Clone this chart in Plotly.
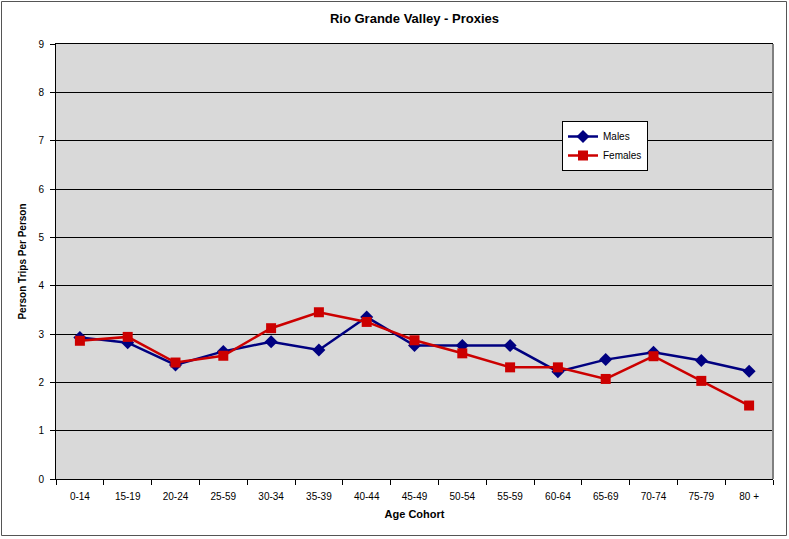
import plotly.graph_objects as go

categories = ["0-14", "15-19", "20-24", "25-59", "30-34", "35-39", "40-44", "45-49",
              "50-54", "55-59", "60-64", "65-69", "70-74", "75-79", "80 +"]
males = [2.93, 2.82, 2.36, 2.64, 2.84, 2.67, 3.35, 2.76, 2.76, 2.76, 2.22, 2.47, 2.62, 2.45, 2.23]
females = [2.86, 2.94, 2.41, 2.55, 3.12, 3.45, 3.25, 2.87, 2.60, 2.31, 2.31, 2.07, 2.54, 2.03, 1.52]

W, H = 789, 539
L, R, T, B = 56, 773, 44, 479

fig = go.Figure()
fig.add_trace(go.Scatter(x=categories, y=males, name="Males", mode="lines+markers",
                         line=dict(color="#000080", width=2.5),
                         marker=dict(symbol="diamond", size=10, color="#000080")))
fig.add_trace(go.Scatter(x=categories, y=females, name="Females", mode="lines+markers",
                         line=dict(color="#CC0000", width=2.5),
                         marker=dict(symbol="square", size=10, color="#CC0000")))

pw, ph = R - L, B - T
def px(x): return (x - L) / pw
def py(y): return (B - y) / ph

fig.update_layout(
    width=W, height=H,
    margin=dict(l=L, r=W - R, t=T, b=H - B, pad=0),
    paper_bgcolor="white", plot_bgcolor="#D9D9D9",
    font=dict(family="Liberation Sans, Arial, sans-serif", size=10, color="black"),
    title=dict(text="<b>Rio Grande Valley - Proxies</b>", x=0.5, xref="paper", xanchor="center",
               y=1 - 18 / H, yanchor="middle", font=dict(size=13)),
    showlegend=True,
    legend=dict(x=px(562), y=py(121), xanchor="left", yanchor="top",
                bgcolor="white", bordercolor="black", borderwidth=1,
                font=dict(size=10), tracegroupgap=0, itemwidth=30),
    xaxis=dict(type="category", range=[-0.5, len(categories) - 0.5], showgrid=False,
               tickson="boundaries", ticks="outside", ticklabelstandoff=8,
               ticklen=5, tickcolor="black", showline=True, linecolor="black", linewidth=1,
               mirror=True, title=dict(text="<b>Age Cohort</b>", font=dict(size=11), standoff=9),
               tickfont=dict(size=10)),
    yaxis=dict(range=[0, 9], dtick=1, showgrid=True, gridcolor="black", gridwidth=1,
               ticks="outside", ticklen=5, tickcolor="black", showline=True, linecolor="black",
               linewidth=1, zeroline=False, ticklabelstandoff=4,
               title=dict(text="<b>Person Trips Per Person</b>", font=dict(size=10), standoff=9),
               tickfont=dict(size=10)),
    shapes=[
        dict(type="line", xref="paper", yref="paper", x0=1, x1=1, y0=0, y1=1,
             line=dict(color="#808080", width=2)),
        dict(type="rect", xref="paper", yref="paper", x0=px(1.5), x1=px(786.5),
             y0=py(535.5), y1=py(1.5), line=dict(color="#555555", width=1), layer="below"),
    ],
)

fig.write_html("out.html", config={"displayModeBar": False},
               post_script="document.body.style.margin='0';")
